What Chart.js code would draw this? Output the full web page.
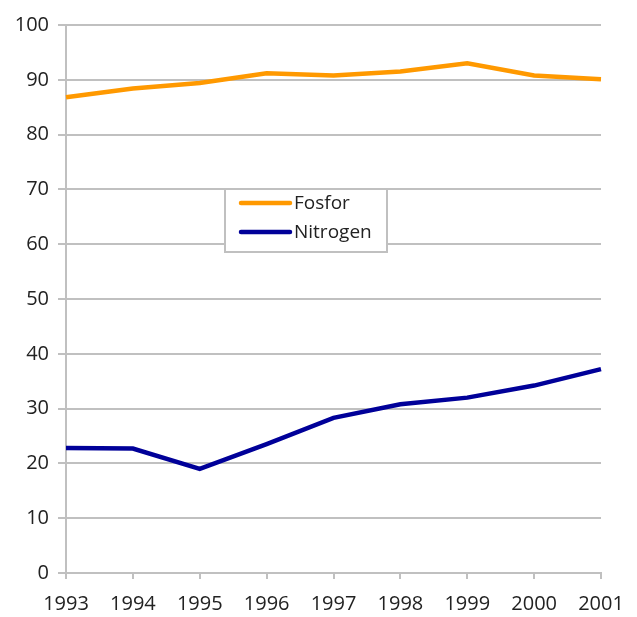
<!DOCTYPE html>
<html>
<head>
<meta charset="utf-8">
<script src="https://cdn.jsdelivr.net/npm/chart.js@4.4.1/dist/chart.umd.min.js"></script>
<style>
  html, body { margin: 0; padding: 0; background: #fff; }
  #wrap { width: 637px; height: 617px; }
</style>
</head>
<body>
<div id="wrap"><canvas id="myChart" width="637" height="617"></canvas></div>
<script>
// data
const years = ['1993', '1994', '1995', '1996', '1997', '1998', '1999', '2000', '2001'];
const fosfor = [86.8, 88.4, 89.4, 91.2, 90.8, 91.5, 93.0, 90.8, 90.1];
const nitrogen = [22.8, 22.7, 19.0, 23.5, 28.3, 30.8, 32.0, 34.2, 37.2];

const gridGray = '#c0c0c0';
const fontFamily = '"Open Sans", "Noto Sans", sans-serif';

// legend box drawn inside the plot, like the original
const boxLegend = {
    id: 'boxLegend',
    afterDraw(chart) {
        const ctx = chart.ctx;
        const x = 225, y = 189, w = 162, h = 63;
        ctx.save();
        ctx.fillStyle = '#fff';
        ctx.fillRect(x, y, w, h);
        ctx.strokeStyle = gridGray;
        ctx.lineWidth = 2;
        ctx.strokeRect(x, y, w, h);
        ctx.font = '19px ' + fontFamily;
        ctx.textBaseline = 'middle';
        chart.data.datasets.forEach((ds, i) => {
            const ly = 203 + i * 29;
            ctx.strokeStyle = ds.borderColor;
            ctx.lineWidth = 4.5;
            ctx.lineCap = 'round';
            ctx.beginPath();
            ctx.moveTo(241, ly);
            ctx.lineTo(290, ly);
            ctx.stroke();
            ctx.fillStyle = '#222';
            ctx.fillText(ds.label, 294, ly + 1);
        });
        ctx.restore();
    }
};

const ctx = document.getElementById('myChart').getContext('2d');
const chart = new Chart(ctx, {
    type: 'line',
    data: {
        labels: years,
        datasets: [{
            label: 'Fosfor',
            data: fosfor,
            borderColor: '#ff9900',
            borderWidth: 4.5,
            pointRadius: 0,
            tension: 0
        }, {
            label: 'Nitrogen',
            data: nitrogen,
            borderColor: '#000099',
            borderWidth: 4.5,
            pointRadius: 0,
            tension: 0
        }]
    },
    options: {
        responsive: false,
        animation: false,
        layout: { padding: { top: 25, right: 36, left: 0, bottom: 0 } },
        plugins: {
            legend: { display: false },
            tooltip: { enabled: false }
        },
        scales: {
            x: {
                offset: false,
                grid: { display: true, drawOnChartArea: false, color: gridGray, lineWidth: 2, tickLength: 6 },
                border: { color: gridGray, width: 2 },
                ticks: { color: '#222', font: { family: fontFamily, size: 20 }, padding: 13, maxRotation: 0, autoSkip: false },
                afterFit(scale) { scale.height = 44; }
            },
            y: {
                min: 0,
                max: 100,
                grid: { color: gridGray, lineWidth: 2, tickLength: 8 },
                border: { color: gridGray, width: 2 },
                ticks: { stepSize: 10, color: '#222', font: { family: fontFamily, size: 20 }, padding: 9 },
                afterFit(scale) { scale.width = 66; }
            }
        }
    },
    plugins: [boxLegend]
});
</script>
</body>
</html>
